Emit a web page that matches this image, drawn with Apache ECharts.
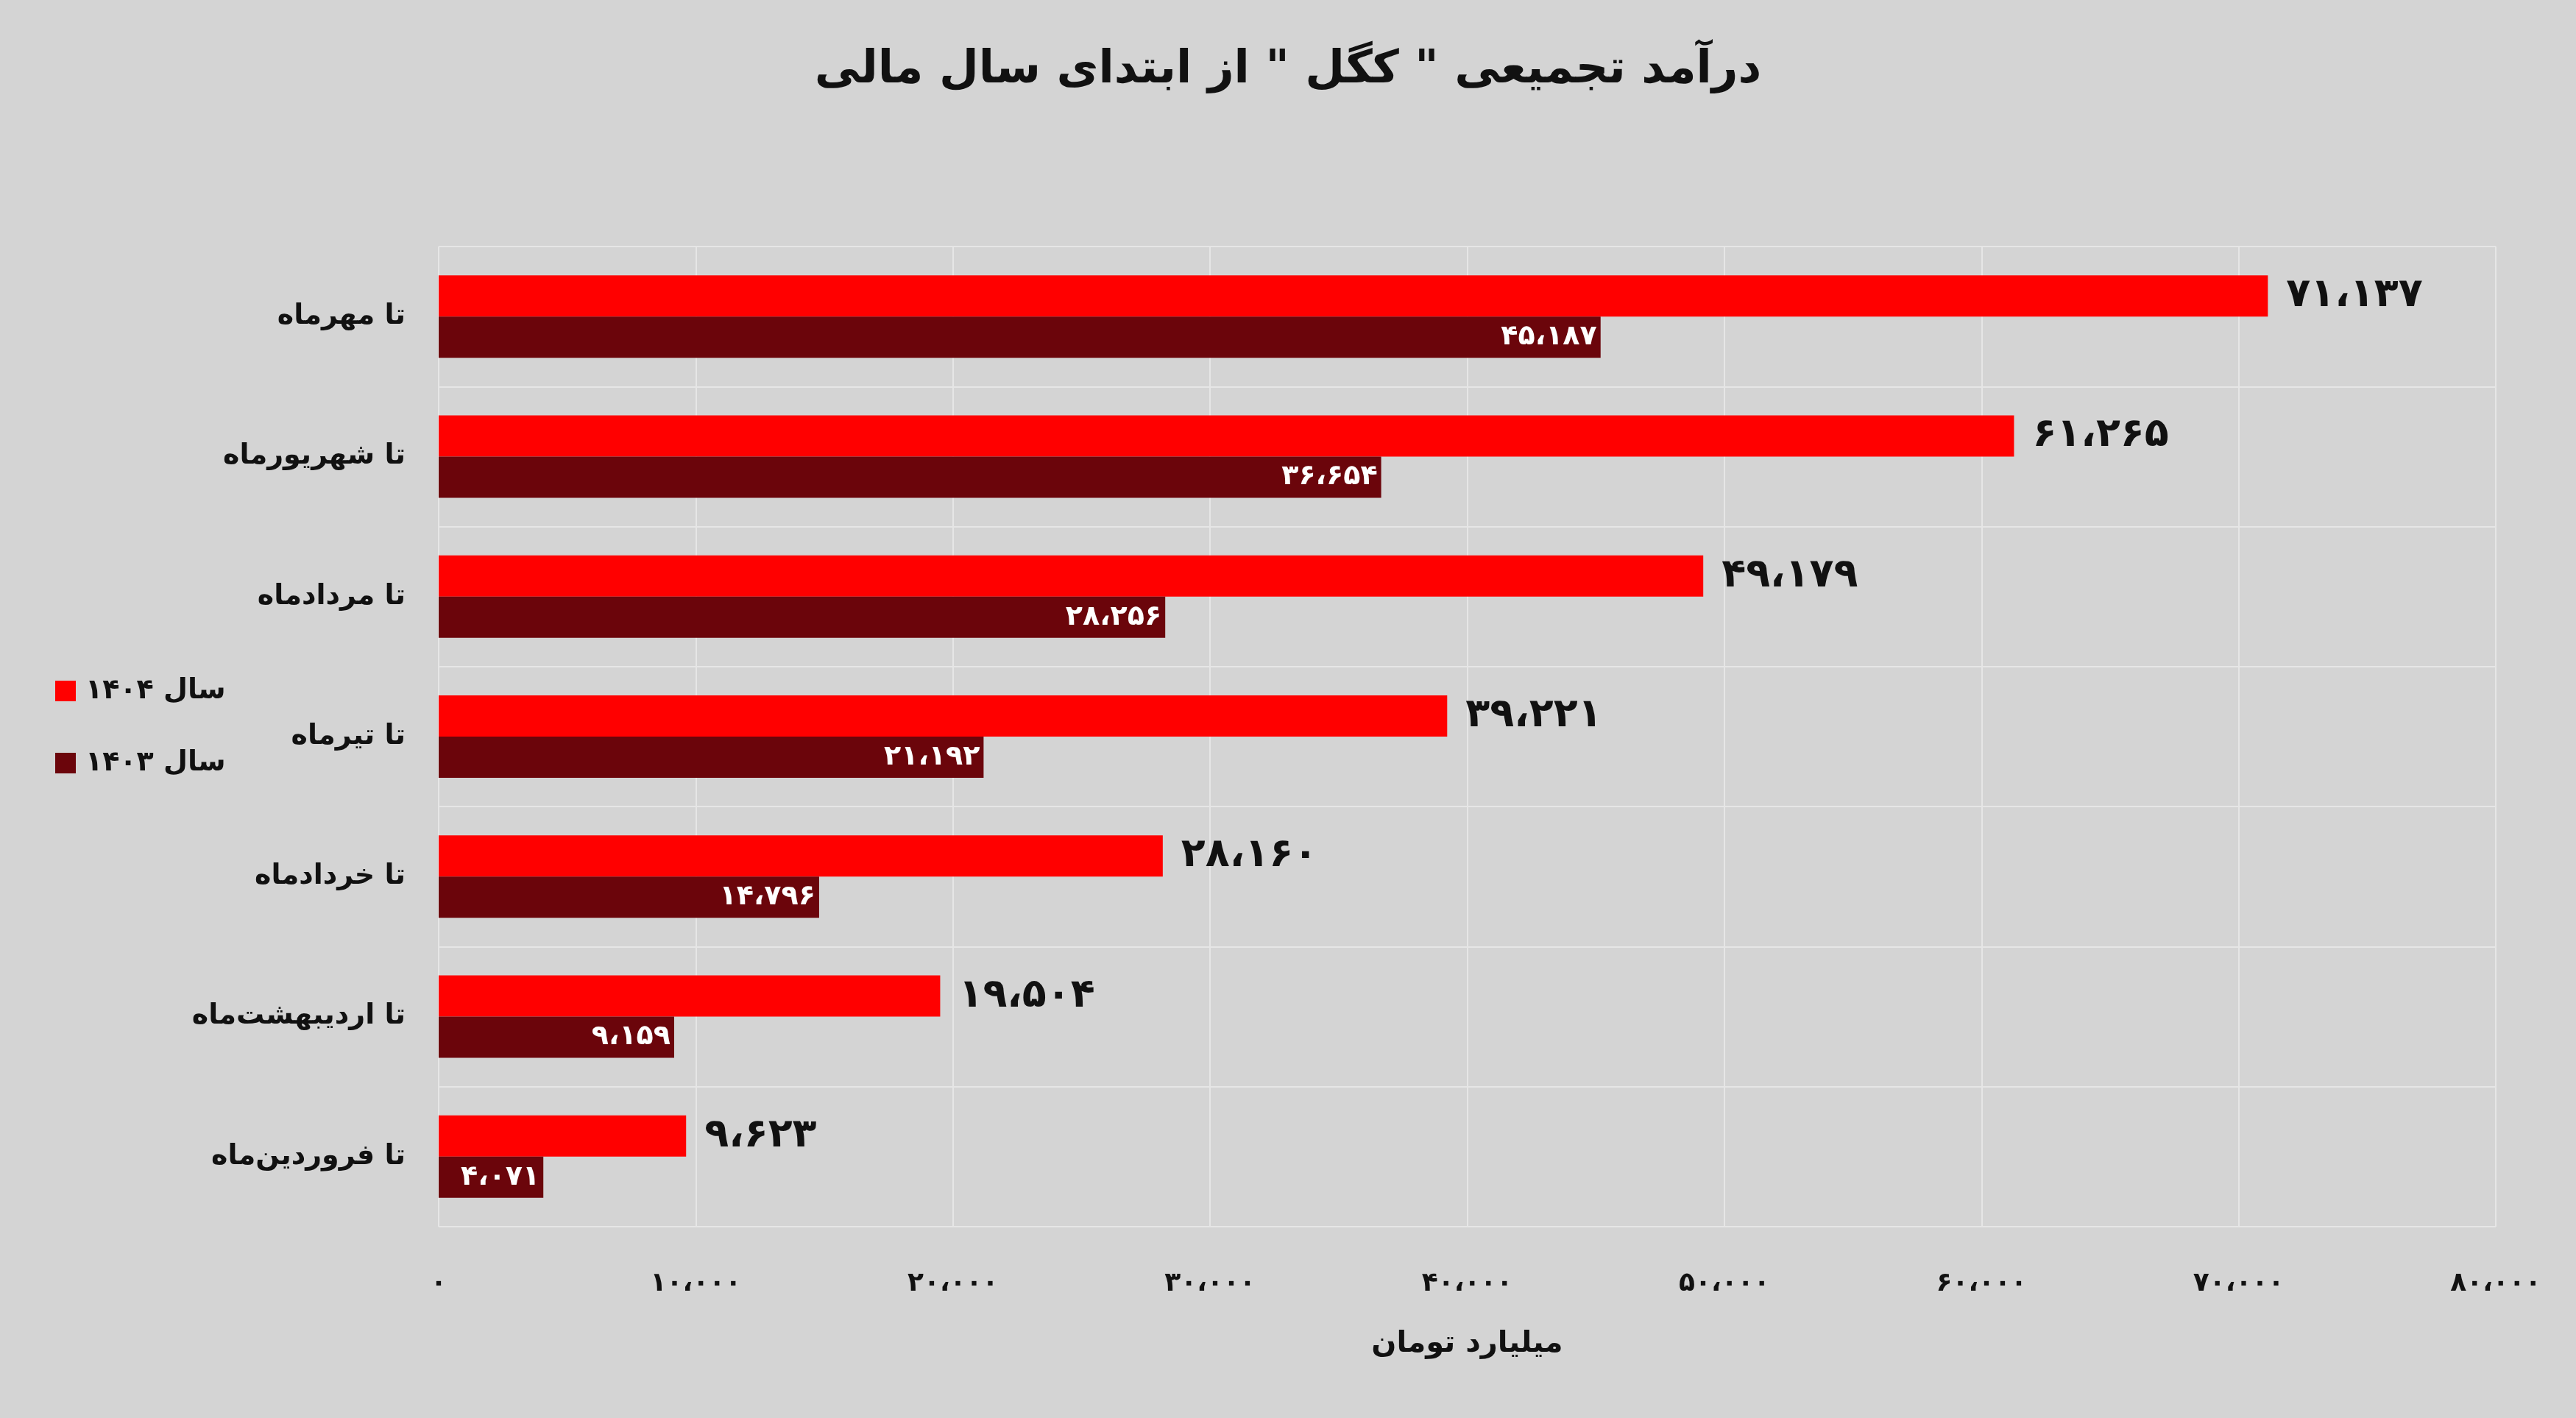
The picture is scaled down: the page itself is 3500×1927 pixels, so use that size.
<!DOCTYPE html>
<html><head><meta charset="utf-8">
<script src="https://cdn.jsdelivr.net/npm/echarts@6/dist/echarts.min.js"></script>
<style>html,body{margin:0;padding:0;background:#d4d4d4}#c{width:3500px;height:1927px}</style>
</head><body><div id="c"></div>
<script>
var categories = ['تا فروردین‌ماه', 'تا اردیبهشت‌ماه', 'تا خردادماه', 'تا تیرماه', 'تا مردادماه', 'تا شهریورماه', 'تا مهرماه'];
var values1404 = [9623, 19504, 28160, 39221, 49179, 61265, 71137];
var values1403 = [4071, 9159, 14796, 21192, 28256, 36654, 45187];
var xTicks = [0, 10000, 20000, 30000, 40000, 50000, 60000, 70000, 80000];

var fa = '۰۱۲۳۴۵۶۷۸۹';
function toFa(n) {
	var s = String(n).replace(/\B(?=(\d{3})+(?!\d))/g, '،');
	return s.replace(/\d/g, function(d) { return fa[+d]; });
}

var font = 'DejaVu Sans';
var myChart = echarts.init(document.getElementById('c'));
myChart.setOption({
	backgroundColor: '#d4d4d4',
	textStyle: { fontFamily: font },
	title: {
		text: 'درآمد تجمیعی " کگل " از ابتدای سال مالی',
		left: 'center', top: 60,
		textStyle: { fontSize: 62, fontWeight: 'bold', color: '#111', fontFamily: font }
	},
	legend: {
		data: ['سال ۱۴۰۴', 'سال ۱۴۰۳'],
		orient: 'vertical', left: 70, top: 915, icon: 'rect',
		itemWidth: 28, itemHeight: 28, itemGap: 60,
		textStyle: { fontSize: 38, fontWeight: 'bold', color: '#111', fontFamily: font, padding: [0, 0, 0, 8] }
	},
	grid: { left: 596, right: 109, top: 335, bottom: 260 },
	xAxis: {
		type: 'value', min: 0, max: 80000, interval: 10000,
		name: 'میلیارد تومان', nameLocation: 'middle', nameGap: 140,
		nameTextStyle: { fontSize: 40, fontWeight: 'bold', color: '#111' },
		axisLine: { show: false }, axisTick: { show: false },
		axisLabel: { fontSize: 36, fontWeight: 'bold', color: '#111', margin: 60,
			formatter: function(v) { return toFa(v); } },
		splitLine: { lineStyle: { color: '#e6e6e6', width: 2 } }
	},
	yAxis: {
		type: 'category', data: categories,
		axisLine: { show: false }, axisTick: { show: false },
		axisLabel: { fontSize: 38, fontWeight: 'bold', color: '#111', margin: 45 },
		splitLine: { show: true, lineStyle: { color: '#e6e6e6', width: 2 } }
	},
	series: [{
		name: 'سال ۱۴۰۴', type: 'bar', data: values1404,
		barWidth: 56, barGap: '0%',
		itemStyle: { color: '#ff0000' },
		label: { show: true, position: 'right', distance: 25, color: '#111', fontSize: 54, fontWeight: 'bold',
			formatter: function(p) { return toFa(p.value); } }
	}, {
		name: 'سال ۱۴۰۳', type: 'bar', data: values1403,
		barWidth: 56,
		itemStyle: { color: '#6b050b' },
		label: { show: true, position: 'insideRight', color: '#fff', fontSize: 38, fontWeight: 'bold',
			formatter: function(p) { return toFa(p.value); } }
	}]
});
</script></body></html>
